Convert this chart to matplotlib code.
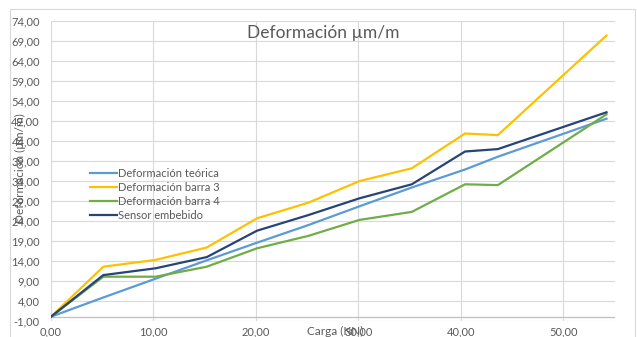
import numpy as np
import matplotlib
matplotlib.use('Agg')
import matplotlib.pyplot as plt
from matplotlib.ticker import FuncFormatter
from matplotlib.patches import Rectangle

plt.rcParams['font.family'] = ['Lato', 'DejaVu Sans']

# carga aplicada (KN) y deformaciones medidas (µm/m)
carga = [0, 5.1, 10.2, 15.2, 20.1, 25.1, 30.1, 35.2, 40.4, 43.6, 54.2]
teorica = [0, 4.8, 9.5, 14.1, 18.5, 22.9, 27.6, 32.3, 36.8, 40.0, 49.5]
barra3 = [0, 12.5, 14.2, 17.3, 24.6, 28.5, 33.9, 37.1, 45.8, 45.4, 70.3]
barra4 = [0, 10.0, 10.0, 12.5, 17.1, 20.2, 24.2, 26.2, 33.1, 32.9, 50.6]
sensor = [0, 10.4, 12.1, 14.9, 21.5, 25.4, 29.6, 33.1, 41.3, 41.9, 51.1]

series = [
    ('Deformación teórica', teorica, '#5B9BD5'),
    ('Deformación barra 3', barra3, '#FFC000'),
    ('Deformación barra 4', barra4, '#70AD47'),
    ('Sensor embebido', sensor, '#264478'),
]

W, H = 637, 337
fig = plt.figure(figsize=(W / 100, H / 100), dpi=100)
ax = fig.add_axes([51 / W, 1 - 320.7 / H, (614.7 - 51) / W, 300 / H])

for name, vals, col in series:
    ax.plot(carga, vals, color=col, lw=1.6, label=name, solid_joinstyle='round')

txt = '#595959'
ax.set_xlim(0, 55)
ax.set_ylim(-1, 74)
ax.set_xticks(np.arange(0, 51, 10))
ax.set_yticks(np.arange(-1, 75, 5))
fmt = FuncFormatter(lambda v, p: f'{v:.2f}'.replace('.', ','))
ax.xaxis.set_major_formatter(fmt)
ax.yaxis.set_major_formatter(fmt)
ax.tick_params(length=0, labelsize=8, labelcolor=txt)
ax.tick_params(axis='y', pad=8)
ax.tick_params(axis='x', pad=4)
ax.grid(True, color='#D9D9D9', lw=0.8)
ax.set_axisbelow(True)
for s in ax.spines.values():
    s.set_visible(False)
ax.axhline(0, color='#BFBFBF', lw=0.9, zorder=1)

fig.text(323 / W, 1 - 33 / H, 'Deformación µm/m', ha='center', va='center',
         fontsize=12.5, color=txt)
fig.text(335 / W, 1 - 331 / H, 'Carga (KN)', ha='center', va='center',
         fontsize=8.5, color=txt)
fig.text(20 / W, 1 - 168 / H, 'Deformación (µm/m)', ha='center', va='center',
         rotation=90, fontsize=8.5, color=txt)

ax.legend(loc='upper left', bbox_to_anchor=(90 / W, 1 - 168 / H),
          bbox_transform=fig.transFigure, frameon=False, fontsize=8,
          handlelength=2.4, handletextpad=0.1, labelspacing=0.28,
          borderpad=0, borderaxespad=0, labelcolor=txt)

fig.add_artist(Rectangle((10 / W, -0.1), 625 / W, 1.1 - 9 / H,
                         transform=fig.transFigure, fill=False,
                         edgecolor='#D9D9D9', lw=0.8))

fig.savefig('out.png', dpi=100)
